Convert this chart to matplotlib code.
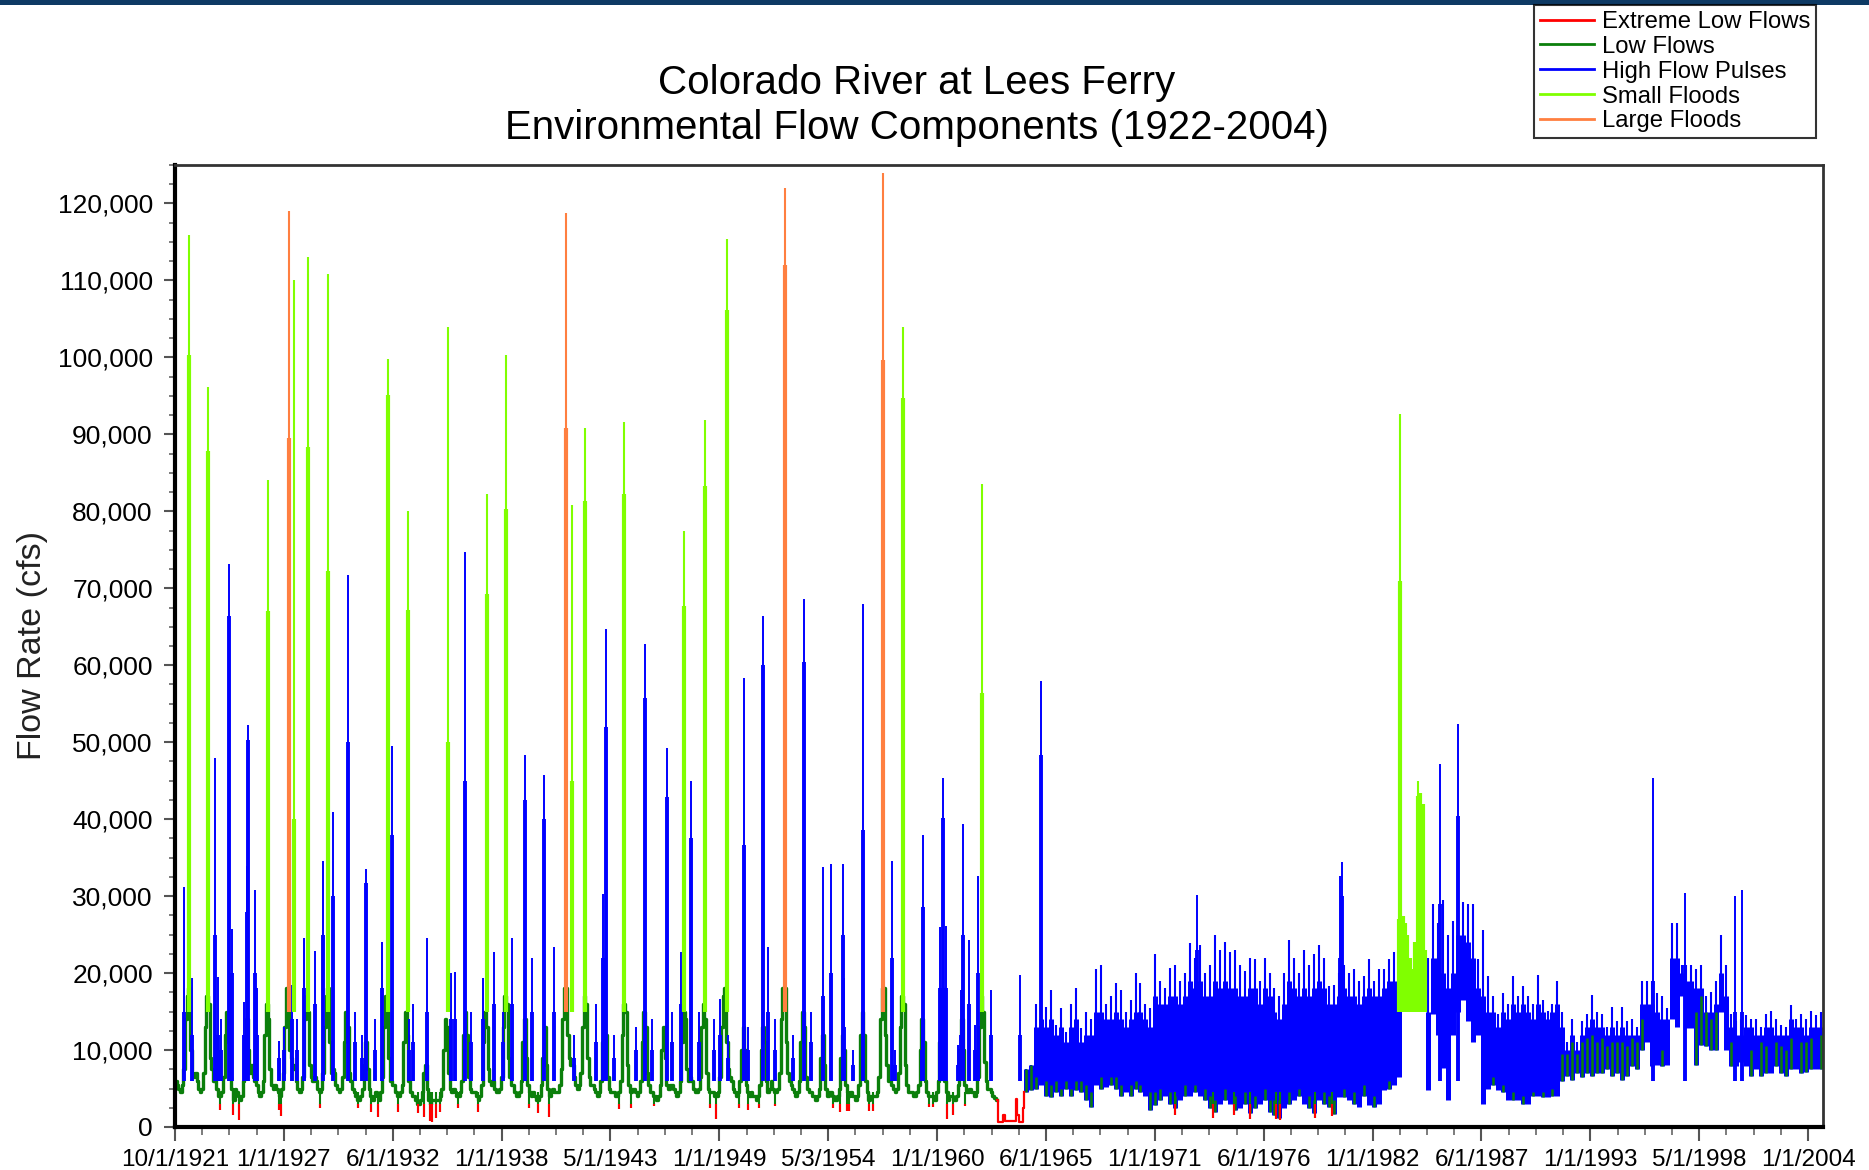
import numpy as np
import matplotlib.pyplot as plt
from matplotlib.lines import Line2D
from matplotlib.patches import Rectangle
from matplotlib.ticker import FuncFormatter, MultipleLocator, FixedLocator

plt.rcParams['font.family'] = ['Liberation Sans', 'DejaVu Sans']

C_EXTREME = '#ff0000'
C_LOW = '#0b7f0b'
C_PULSE = '#0000ff'
C_SMALL = '#80ff00'
C_LARGE = '#ff7f40'

# --- x axis labels (as printed on the chart, evenly spaced)
tick_labels = ['10/1/1921', '1/1/1927', '6/1/1932', '1/1/1938', '5/1/1943', '1/1/1949',
               '5/3/1954', '1/1/1960', '6/1/1965', '1/1/1971', '6/1/1976', '1/1/1982',
               '6/1/1987', '1/1/1993', '5/1/1998', '1/1/2004']

# --- pre-dam low flows, monthly (Oct..Sep) per water year, thousand cfs
lowflow_start = 1921.75
lowflow_kcfs = [
    6.0, 5.5, 5.0, 4.5, 5.5, 7.5, 14, 17, 18, 10, 7.0, 6.5,     # 1922
    7.0, 6.0, 5.0, 4.5, 5.0, 7.0, 13, 17, 16, 9.0, 7.5, 6.0,    # 1923
    6.5, 5.0, 4.0, 4.0, 4.5, 6.5, 12, 15, 11, 6.5, 5.0, 3.5,    # 1924
    5.0, 4.5, 4.0, 3.5, 4.0, 6.0, 11, 14, 10, 7.0, 8.0, 6.5,    # 1925
    6.0, 5.5, 4.5, 4.0, 4.5, 6.0, 12, 16, 14, 7.5, 5.5, 5.0,    # 1926
    5.5, 5.0, 4.5, 4.0, 5.0, 7.0, 13, 18, 17, 10, 9.0, 8.0,     # 1927
    7.5, 6.0, 5.0, 4.5, 5.0, 6.5, 14, 17, 15, 8.0, 6.5, 6.0,    # 1928
    6.5, 6.0, 5.0, 4.5, 5.0, 7.0, 13, 17, 18, 11, 7.0, 7.5,     # 1929
    7.0, 5.5, 5.0, 4.5, 5.0, 6.5, 11, 15, 13, 7.0, 6.0, 5.0,    # 1930
    4.5, 4.0, 3.5, 3.5, 4.0, 5.0, 8.0, 11, 7.5, 5.0, 4.0, 3.5,  # 1931
    4.0, 4.5, 4.0, 3.5, 4.5, 6.5, 13, 17, 16, 9.0, 6.0, 5.5,    # 1932
    5.5, 4.5, 4.0, 4.0, 4.5, 5.5, 11, 15, 12, 6.0, 4.5, 4.0,    # 1933
    4.0, 3.5, 3.0, 3.0, 3.5, 4.5, 7.0, 8.0, 5.0, 3.5, 3.0, 3.5, # 1934
    3.5, 3.5, 3.5, 3.5, 4.0, 5.0, 10, 14, 13, 7.0, 5.0, 4.5,    # 1935
    5.0, 4.5, 4.0, 4.0, 4.5, 6.0, 12, 15, 12, 6.5, 5.0, 4.5,    # 1936
    4.5, 4.5, 4.0, 3.5, 4.0, 5.5, 11, 15, 13, 7.5, 6.0, 5.5,    # 1937
    6.0, 5.0, 4.5, 4.5, 5.0, 6.5, 13, 17, 16, 9.0, 6.5, 5.5,    # 1938
    5.5, 4.5, 4.0, 4.0, 4.5, 6.0, 11, 14, 9.0, 5.5, 4.5, 4.0,   # 1939
    4.5, 4.0, 3.5, 3.5, 4.0, 5.5, 9.0, 13, 8.0, 5.0, 4.0, 4.5,  # 1940
    5.0, 4.5, 4.5, 4.5, 5.5, 7.5, 14, 18, 18, 12, 9.0, 8.0,     # 1941
    8.0, 6.5, 5.5, 5.0, 5.5, 7.0, 13, 17, 16, 9.0, 6.5, 5.5,    # 1942
    5.5, 5.0, 4.5, 4.0, 4.5, 6.0, 11, 15, 12, 6.5, 5.0, 4.5,    # 1943
    4.5, 4.5, 4.0, 4.0, 4.5, 6.0, 12, 16, 15, 8.0, 5.5, 4.5,    # 1944
    5.0, 5.0, 4.5, 4.0, 4.5, 6.0, 11, 15, 13, 7.0, 5.5, 4.5,    # 1945
    4.5, 4.0, 4.0, 3.5, 4.0, 5.5, 10, 13, 9.0, 5.5, 5.0, 5.5,   # 1946
    5.5, 5.0, 4.5, 4.0, 4.5, 6.0, 11, 15, 14, 7.5, 6.0, 6.5,    # 1947
    6.0, 5.0, 4.5, 4.5, 5.0, 6.5, 13, 16, 14, 7.0, 5.0, 4.5,    # 1948
    4.5, 4.5, 4.0, 4.0, 4.5, 6.5, 13, 17, 18, 11, 7.5, 6.5,     # 1949
    6.0, 5.0, 4.5, 4.0, 4.5, 6.0, 10, 13, 10, 5.5, 4.5, 4.0,    # 1950
    4.5, 4.0, 4.0, 3.5, 4.0, 5.5, 10, 13, 11, 6.0, 4.5, 5.0,    # 1951
    6.0, 5.0, 4.5, 4.5, 5.0, 7.0, 14, 18, 18, 11, 7.0, 6.0,     # 1952
    5.5, 5.0, 4.5, 4.0, 4.5, 6.0, 11, 15, 13, 6.5, 5.0, 4.5,    # 1953
    4.5, 4.0, 4.0, 3.5, 4.0, 5.0, 9.0, 12, 8.0, 5.0, 4.0, 4.5,  # 1954
    4.5, 4.0, 3.5, 3.5, 4.0, 5.0, 9.0, 12, 10, 5.5, 4.5, 4.0,   # 1955
    4.5, 4.0, 4.0, 3.5, 4.0, 5.5, 12, 15, 12, 6.0, 4.5, 3.5,    # 1956
    4.0, 4.0, 4.0, 4.0, 4.5, 6.5, 14, 18, 18, 12, 8.0, 6.0,     # 1957
    6.0, 5.5, 5.0, 4.5, 5.0, 7.0, 13, 17, 16, 8.0, 5.5, 4.5,    # 1958
    4.5, 4.5, 4.0, 4.0, 4.5, 5.5, 10, 14, 11, 6.0, 4.5, 4.0,    # 1959
    4.0, 4.0, 4.0, 3.5, 4.5, 6.0, 11, 15, 12, 6.0, 4.5, 3.5,    # 1960
    4.0, 4.0, 3.5, 3.5, 4.0, 5.5, 10, 14, 10, 5.5, 4.5, 4.5,    # 1961
    5.0, 4.5, 4.5, 4.0, 4.5, 6.5, 13, 17, 15, 8.5, 6.0, 5.0,    # 1962
    5.0, 4.5, 4.0, 3.8, 3.5,                                    # 1963 (to dam closure)
]

# --- Lake Powell filling, 1963-64 (thousand cfs)
fill_year = [1963.16, 1963.20, 1963.25, 1963.40, 1963.45, 1963.55, 1964.05,
             1964.12, 1964.18, 1964.25, 1964.35, 1964.45, 1964.50]
fill_kcfs = [3.5, 0.6, 0.7, 0.7, 1.6, 0.8, 0.8, 3.7, 1.5, 0.7, 0.6, 2.5, 4.5]

# --- floods: date, peak, sustained part, class (thousand cfs)
flood_year = [1922.44, 1923.41, 1926.45, 1927.50, 1927.73, 1928.47, 1929.48, 1932.47,
              1933.46, 1935.51, 1937.44, 1938.41, 1941.44, 1941.75, 1942.41, 1944.36,
              1947.40, 1948.43, 1949.53, 1952.45, 1957.42, 1958.42, 1962.40, 1983.47,
              1984.36, 1983.40, 1983.58, 1983.70, 1983.82, 1983.95, 1984.08, 1984.20,
              1984.47, 1984.60, 1984.72]
flood_peak = [115.9, 96.1, 84.1, 119.0, 110.1, 113.1, 110.8, 99.8,
              80.0, 103.9, 82.2, 100.3, 118.7, 80.8, 90.8, 91.6,
              77.5, 91.9, 115.4, 122.0, 124.0, 103.9, 83.5, 92.7,
              45.0, 27.0, 27.4, 26.5, 25.0, 22.0, 20.5, 24.0,
              43.4, 42.0, 23.0]
flood_body = [100.3, 87.8, 67.1, 89.5, 40.0, 88.4, 72.3, 95.1,
              67.2, 50.0, 69.2, 80.3, 90.8, 45.0, 81.3, 82.2,
              67.7, 83.3, 106.1, 112.0, 99.6, 94.7, 56.4, 71.0,
              43.0, 27.0, 27.4, 26.5, 25.0, 22.0, 20.5, 24.0,
              43.4, 42.0, 23.0]
flood_class = ['small', 'small', 'small', 'large', 'small', 'small', 'small', 'small',
               'small', 'small', 'small', 'small', 'large', 'small', 'small', 'small',
               'small', 'small', 'small', 'large', 'large', 'small', 'small', 'small',
               'small', 'small', 'small', 'small', 'small', 'small', 'small', 'small',
               'small', 'small', 'small']

# --- high flow pulses: date, peak, sustained part (thousand cfs)
pulse_year = [1922.22, 1922.63, 1923.75, 1923.91, 1924.49, 1924.60, 1925.21, 1925.39,
              1925.44, 1925.77, 1927.01, 1927.64, 1928.25, 1928.81, 1929.21, 1929.71,
              1930.45, 1931.39, 1932.18, 1932.70, 1934.43, 1935.66, 1935.84, 1936.38,
              1937.24, 1937.80, 1938.74, 1939.37, 1939.71, 1940.34, 1940.83, 1943.31,
              1943.47, 1945.42, 1946.52, 1947.24, 1947.73, 1949.22, 1950.39, 1951.38,
              1951.62, 1953.45, 1954.39, 1954.77, 1955.37, 1956.41, 1957.84, 1959.43,
              1960.44, 1960.57, 1961.44, 1961.75, 1962.20, 1962.87, 1964.30, 1965.39,
              1973.20, 1980.40, 1980.55, 1985.45, 1986.37, 1996.20, 1997.80, 2000.30,
              2000.65,
              1924.09, 1925.89, 1927.23, 1927.91, 1930.83, 1931.17, 1931.84, 1933.53,
              1933.75, 1936.67, 1938.25, 1941.84, 1942.97, 1943.87, 1944.99, 1945.78,
              1946.79, 1948.14, 1948.92, 1949.60, 1950.61, 1951.96, 1952.86, 1953.76,
              1955.44, 1955.90, 1958.00, 1959.35, 1960.27, 1961.19, 1961.36, 1962.03]
pulse_peak = [31.2, 19.3, 47.9, 19.5, 73.1, 25.7, 16.2, 33.9,
              52.2, 30.8, 11.2, 18.4, 24.5, 22.9, 34.6, 40.9,
              71.7, 33.5, 24.0, 49.5, 24.5, 20.0, 20.1, 74.7,
              19.3, 22.7, 24.5, 48.3, 22.0, 45.8, 23.4, 30.3,
              64.7, 62.8, 49.2, 22.7, 44.9, 16.6, 58.4, 66.4,
              23.4, 68.6, 33.8, 34.2, 34.2, 68.0, 34.6, 38.0,
              45.4, 26.1, 39.4, 24.3, 32.6, 17.8, 19.8, 58.0,
              30.1, 32.6, 34.4, 47.2, 52.3, 45.4, 30.4, 30.0,
              30.8,
              14, 18, 13, 14, 15, 12, 14, 14,
              16, 15, 15, 12, 16, 12, 13, 14,
              15, 15, 14, 12, 13, 14, 12, 15,
              19.3, 10, 10, 13.8, 26, 10.6, 17.8, 13.3]
pulse_body = [15, 12, 25, 12, 66.4, 20, 12, 28,
              50.3, 20, 9, 14, 18, 16, 25, 30,
              50, 31.7, 18, 38, 15, 14, 14, 45,
              14, 16, 16, 42.5, 15, 40, 15, 22,
              52, 55.7, 42.9, 16, 37.5, 12, 36.6, 60,
              15, 60.4, 17, 20, 25, 38.6, 22, 28.6,
              40.2, 18, 25, 16, 20, 12, 12, 48.3,
              23, 22, 30, 29, 40.4, 19, 21, 15,
              15,
              10, 12, 10, 10, 11, 9, 10, 10,
              11, 11, 11, 9, 11, 9, 10, 10,
              11, 11, 10, 9, 10, 10, 9, 11,
              13, 8, 8, 10, 18, 8, 12, 10]

# --- extreme low flow dips: date, minimum (thousand cfs)
dip_year = [1924.04, 1924.69, 1924.99, 1927.01, 1927.08, 1929.03, 1930.99, 1931.62,
            1931.95, 1932.97, 1933.98, 1934.31, 1934.61, 1934.70, 1934.88, 1935.10,
            1936.00, 1937.01, 1939.60, 1940.05, 1940.60, 1944.09, 1944.72, 1945.89,
            1948.70, 1948.99, 1950.16, 1950.61, 1951.17, 1951.96, 1954.88, 1955.22,
            1955.60, 1955.72, 1956.70, 1956.88, 1959.70, 1959.95, 1960.65, 1960.95,
            1961.53, 1972.10, 1974.03, 1975.10, 1975.88, 1977.22, 1977.40, 1979.15,
            1980.00]
dip_kcfs = [2.2, 1.6, 0.9, 2.2, 1.4, 2.5, 2.5, 2.0,
            1.3, 2.0, 1.8, 1.3, 0.8, 0.6, 1.2, 2.0,
            2.5, 2.0, 2.5, 1.8, 1.3, 2.3, 2.5, 2.7,
            2.5, 1.1, 2.5, 2.2, 2.5, 2.7, 2.5, 2.0,
            2.1, 2.1, 2.1, 2.1, 2.6, 2.6, 1.0, 1.5,
            2.7, 1.6, 1.2, 1.6, 1.1, 1.0, 0.9, 1.2,
            1.4]

# --- post-dam fluctuating releases, quarterly from 1964.5 (thousand cfs):
#     daily range (lo..hi), bulk of the fluctuation (lo..core), low-flow part (lo..green)
band_start = 1964.5
band_lo = [4.5, 4.8,
           5.0, 5.5, 4.0, 3.9,  4.5, 4.0, 5.0, 4.0,  4.8, 4.5, 3.5, 2.6,  5.5, 5.0, 5.2, 5.5,
           5.0, 4.0, 4.5, 4.0,  5.0, 4.5, 4.0, 2.2,  2.8, 3.5, 4.0, 3.0,  2.5, 3.5, 4.0, 4.0,
           4.5, 4.0, 3.5, 2.5,  2.0, 3.0, 3.5, 3.0,  2.2, 2.5, 3.0, 1.8,  2.5, 3.0, 3.5, 2.0,
           1.5, 1.2, 2.5, 3.0,  3.5, 4.0, 3.0, 2.5,  1.8, 3.5, 3.0, 2.6,  1.7, 3.9, 3.9, 3.5,
           3.0, 2.6, 4.0, 2.8,  2.6, 3.0, 4.8, 5.0,  5.5, 6.5, np.nan, np.nan,
           np.nan, np.nan, np.nan, 4.8,  14.7, 12, 7.7, 3.5,  12, 15, 16.5, 13.8,
           11, 12, 3.0, 5.0,  5.5, 4.8, 4.5, 3.5,  3.5, 3.5, 3.0, 3.0,  4.0, 4.0, 3.9, 3.9,
           4.0, 4.0, 6.0, 6.6,  6.1, 7.0, 6.5, 7.0,  6.6, 7.0, 7.0, 7.5,  6.6, 7.0, 6.1, 6.6,
           7.9, 7.5, 10, 11,  7.9, 8.0, 7.9, 8.0,  14, 13, 17, 12.9,  12.9, 8.0, 10.6, 10.5,
           10, 10, 15, 10,  7.9, 7.9, 8.5, 7.9,  6.6, 7.5, 6.6, 7.0,  7.0, 7.9, 7.0, 6.6,
           7.5, 7.5, 7.0, 7.2,  7.5, 7.5, 7.5]
band_hi = [7.5, 8.0,
           16, 18, 15.6, 17.8,  13.3, 15.5, 12.4, 16,  18, 12.9, 15, 14,  20.5, 21, 16, 17,
           18.7, 17.8, 15, 16.5,  20, 18.7, 16, 15.5,  22.5, 19, 18, 20.7,  21, 19, 20, 23.9,
           22, 23.6, 20, 21,  25, 23, 24, 22.7,  23, 21, 20.3, 22,  21.8, 19, 22, 20,
           18, 17, 20, 24.3,  22, 20, 23, 21,  22.5, 23.6, 22, 18.3,  18.5, 20, 21, 20,
           20.5, 19, 19.6, 21.8,  19, 20.5, 20.5, 21.8,  22.7, 22, np.nan, np.nan,
           np.nan, np.nan, np.nan, 22,  29, 26.5, 29.5, 25,  26.8, 31, 29.2, 29,
           29, 21.8, 25.6, 19.6,  17, 14.7, 17.4, 16,  19.6, 17, 18.3, 17,  16, 19.8, 16.5, 15.1,
           16, 19, 15, 11,  14, 11, 13.8, 14.7,  17.1, 15, 14.7, 13,  15.6, 13.8, 15.6, 13.8,
           14, 13, 19, 19,  19, 17.4, 17, 15.5,  26.5, 26.5, 21, 21,  21, 20.5, 21, 17,
           17.5, 19, 25, 21,  14.7, 13.8, 14, 14.5,  14, 14, 13, 14.7,  15.1, 14, 13.3, 13,
           15.8, 14, 14.7, 14,  15.1, 14.5, 15]
band_core = [7.5, 8.0,
             13, 14, 13, 14,  12, 13, 11, 13,  14, 11, 12, 12,  15, 15, 14, 14,
             15, 14, 13, 14,  15, 15, 14, 13,  17, 16, 16, 17,  17, 16, 17, 19,
             18, 19, 17, 17,  19, 18, 19, 18,  18, 17, 17, 18,  18, 16, 18, 17,
             15, 14, 16, 19,  18, 17, 18, 17,  18, 19, 18, 16,  16, 17, 18, 17,
             17, 16, 17, 18,  17, 17, 18, 19,  19, 19, np.nan, np.nan,
             np.nan, np.nan, np.nan, 15,  22, 22, 20, 18,  20, 25, 25, 24,
             22, 18, 17, 15,  15, 13, 15, 14,  16, 15, 16, 15,  14, 16, 15, 14,
             15, 16, 13, 10,  12, 10, 12, 13,  14, 13, 13, 12,  13, 12, 13, 12,
             12, 12, 16, 16,  16, 15, 14, 14,  22, 22, 20, 19,  19, 18, 18, 15,
             15, 16, 20, 17,  13, 12, 12, 13,  13, 12, 12, 13,  13, 12, 12, 12,
             14, 13, 13, 12,  13, 13, 13]
band_green = [7.5, 8.0,
              6.5, 0, 6, 5.5,  6, 5, 6, 5,  6, 6, 5.5, 4.5,  0, 6.5, 0, 6.5,
              6.5, 5.5, 0, 5.5,  6, 5.5, 0, 4.5,  4.5, 5, 0, 4.5,  4, 0, 5.5, 0,
              5.5, 0, 5, 4,  3.5, 0, 5, 0,  4, 0, 4.5, 3,  4, 0, 5, 3.5,
              3.5, 3.5, 0, 4.5,  0, 5, 0, 4,  3.5, 0, 4.5, 4,  3.5, 0, 5, 0,
              4.5, 0, 5.5, 0,  4, 0, 0, 6,  0, 0, np.nan, np.nan,
              np.nan, np.nan, np.nan, 0,  0, 0, 0, 0,  0, 0, 0, 0,
              0, 0, 0, 0,  6.5, 0, 5.5, 0,  4.5, 0, 4, 0,  4.5, 0, 4.5, 0,
              5, 0, 9.5, 9.5,  11, 9.5, 11, 11.5,  12, 11, 11.5, 10.5,  11, 11, 11, 10.5,
              11.5, 11, 14, 0,  10, 0, 10, 0,  0, 0, 0, 0,  0, 15, 17, 15,
              14, 15, 0, 0,  11, 0, 11, 0,  10, 0, 11, 10.5,  0, 11, 10.5, 10,
              11.5, 0, 11, 11,  11.5, 0, 12]

fig = plt.figure(figsize=(18.69, 11.70), dpi=100)
fig.patches.append(Rectangle((0, 1 - 5 / 1170), 1, 5 / 1170, transform=fig.transFigure,
                             facecolor='#0e3a64', edgecolor='none'))
ax = fig.add_axes([175 / 1869, 1 - 1127 / 1170, (1823 - 175) / 1869, (1127 - 165) / 1170])

# low flow hydrograph before the dam
lf = np.array(lowflow_kcfs) * 1000
lx = lowflow_start + (np.arange(len(lf)) + 0.5) / 12
ax.step(lx, lf, where='mid', color=C_LOW, lw=2.4, zorder=2)

# Lake Powell filling
ax.step(fill_year, np.array(fill_kcfs) * 1000, where='post', color=C_EXTREME, lw=1.6, zorder=5)

# post-dam release band
blo = np.array(band_lo) * 1000
bhi = np.array(band_hi) * 1000
bco = np.array(band_core) * 1000
bgr = np.array(band_green) * 1000
bx = band_start + 0.125 + 0.25 * np.arange(len(blo))
ok = ~np.isnan(blo)
ax.vlines(bx[ok], blo[ok], bhi[ok], color=C_PULSE, lw=1.5, zorder=2)
ax.vlines(bx[ok], blo[ok], bco[ok], color=C_PULSE, lw=3.6, zorder=2)
gm = ok & (bgr > 0)
ax.vlines(bx[gm], blo[gm], bgr[gm], color=C_LOW, lw=1.8, zorder=2.5)

# high flow pulses
py = np.array(pulse_year)
ax.vlines(py, 6000, np.array(pulse_peak) * 1000, color=C_PULSE, lw=1.4, zorder=3)
ax.vlines(py, 6000, np.array(pulse_body) * 1000, color=C_PULSE, lw=2.8, zorder=3)

# floods
fy = np.array(flood_year)
fcol = [C_LARGE if c == 'large' else C_SMALL for c in flood_class]
ax.vlines(fy, 15000, np.array(flood_peak) * 1000, colors=fcol, lw=1.5, zorder=4)
ax.vlines(fy, 15000, np.array(flood_body) * 1000, colors=fcol, lw=3.0, zorder=4)

# extreme low flows, hanging below the low-flow line
dk = np.array(dip_kcfs) * 1000
ax.vlines(dip_year, dk, 4500, color=C_LOW, lw=1.5, zorder=4.5)
ax.vlines(dip_year, dk, 3000, color=C_EXTREME, lw=1.5, zorder=5)

# axes styling
ax.set_xlim(1921.75, 2004.75)
ax.set_ylim(0, 125000)
major_x = np.linspace(1921.75, 2004.0, len(tick_labels))
ax.xaxis.set_major_locator(FixedLocator(major_x))
ax.xaxis.set_minor_locator(FixedLocator(np.arange(1921.75, 2004.75, (major_x[1] - major_x[0]) / 4)))
ax.set_xticklabels(tick_labels)
ax.yaxis.set_major_locator(MultipleLocator(10000))
ax.yaxis.set_minor_locator(MultipleLocator(2500))
ax.yaxis.set_major_formatter(FuncFormatter(lambda v, p: f'{int(v):,}'))

ax.tick_params(axis='y', which='major', length=8, width=1.5, color='#555555',
               labelsize=19, pad=8)
ax.tick_params(axis='y', which='minor', length=4, width=1.2, color='#666666')
ax.tick_params(axis='x', which='major', length=10, width=1.5, color='#555555',
               labelsize=17.5, pad=6)
ax.tick_params(axis='x', which='minor', length=6, width=1.2, color='#666666')

for side in ['left', 'bottom']:
    ax.spines[side].set_linewidth(3)
    ax.spines[side].set_color('black')
for side in ['top', 'right']:
    ax.spines[side].set_linewidth(2)
    ax.spines[side].set_color('#333333')

fig.text(917 / 1869, 1 - 83 / 1170, 'Colorado River at Lees Ferry',
         ha='center', va='center', fontsize=29)
fig.text(917 / 1869, 1 - 128 / 1170, 'Environmental Flow Components (1922-2004)',
         ha='center', va='center', fontsize=29)
fig.text(33 / 1869, 1 - 645 / 1170, 'Flow Rate (cfs)', rotation=90,
         ha='center', va='center', fontsize=24.5, color='#222222')

handles = [Line2D([], [], color=c, lw=2) for c in [C_EXTREME, C_LOW, C_PULSE, C_SMALL, C_LARGE]]
labels = ['Extreme Low Flows', 'Low Flows', 'High Flow Pulses', 'Small Floods', 'Large Floods']
leg = fig.legend(handles, labels, loc='upper right', bbox_to_anchor=(1816 / 1869, 1 - 5 / 1170),
                 fontsize=17.2, frameon=True, fancybox=False, edgecolor='black',
                 handlelength=2.3, handletextpad=0.3, labelspacing=0.12,
                 borderpad=0.25, borderaxespad=0)
leg.get_frame().set_linewidth(1.5)

fig.savefig('out.png', dpi=100)
